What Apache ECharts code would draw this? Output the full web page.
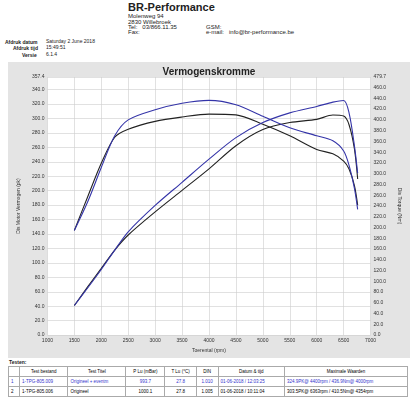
<!DOCTYPE html><html><head><meta charset="utf-8">
<script src="https://cdn.jsdelivr.net/npm/echarts@6/dist/echarts.min.js"></script>
<style>
body{margin:0;width:416px;height:401px;background:#fff;font-family:Arial,"Liberation Sans",sans-serif;position:relative;overflow:hidden}
.a{position:absolute;font-size:6px;color:#222;white-space:nowrap}
#c{position:absolute;left:8px;top:62px;width:402px;height:296px;background:#e4e4e4}
table{position:absolute;left:8px;top:366px;width:400px;border-collapse:collapse;font-size:4.5px}
td,th{border:1px solid #aaa;padding:1px 2px;font-weight:normal;height:7px}
.b td{color:#33c}
</style></head><body>
<div class="a" style="left:128px;top:1px;font-size:11px;font-weight:bold">BR-Performance</div>
<div class="a" style="left:128px;top:13px">Molenweg 94</div>
<div class="a" style="left:128px;top:19px">2830 Willebroek</div>
<div class="a" style="left:128px;top:24px">Tel: &nbsp; 03/866.11.35</div>
<div class="a" style="left:128px;top:29px">Fax:</div>
<div class="a" style="left:206px;top:24px">GSM:</div>
<div class="a" style="left:206px;top:29px">e-mail: &nbsp; info@br-performance.be</div>
<div class="a" style="left:5px;top:39px;font-size:5px;font-weight:bold">Afdruk datum</div>
<div class="a" style="left:46px;top:38px;font-size:5px">Saturday 2 June 2018</div>
<div class="a" style="left:13px;top:45px;font-size:5px;font-weight:bold">Afdruk tijd</div>
<div class="a" style="left:46px;top:44px;font-size:5px">15:49:51</div>
<div class="a" style="left:22px;top:52px;font-size:5px;font-weight:bold">Versie</div>
<div class="a" style="left:46px;top:51px;font-size:5px">6.1.4</div>
<div id="c"></div>
<div class="a" style="left:9px;top:359px;font-size:5px;font-weight:bold">Testen:</div>
<table>
<tr><th style="width:6px"></th><th>Test bestand</th><th>Test Titel</th><th>P Lu (mBar)</th><th>T Lu (°C)</th><th>DIN</th><th>Datum &amp; tijd</th><th>Maximale Waarden</th></tr>
<tr class="b"><td>1</td><td>1-TPG-805.009</td><td>Origineel + eventm</td><td style="text-align:center">993.7</td><td style="text-align:center">27.8</td><td style="text-align:center">1.010</td><td>01-06-2018 / 12:03:25</td><td>324.9PK@ 4400rpm / 436.9Nm@ 4000rpm</td></tr>
<tr><td>2</td><td>1-TPG-805.006</td><td>Origineel</td><td style="text-align:center">1000.1</td><td style="text-align:center">27.8</td><td style="text-align:center">1.005</td><td>01-06-2018 / 10:11:04</td><td>303.5PK@ 6363rpm / 410.5Nm@ 4354rpm</td></tr>
</table>
<script>
const rpm=[1500,1750,2000,2250,2500,3000,3500,4000,4500,5000,5500,6000,6300,6500,6600,6700,6760];
const pow1=[145,185,232,276,298,312,321,325,319,303,287,276,269,255,235,203,174];
const pow2=[145,192,238,274,285,296,302,306,305,292,276,257,251,241,230,207,180];
const tq1=[55,88,122,158,192,241,284,327,367,395,413,425,433,436,413,352,301];
const tq2=[55,90,124,158,186,229,269,309,352,382,395,401,409,407,391,346,290];
const pair=(a)=>rpm.map((r,i)=>[r,a[i]]);
const ax={fontSize:5,color:'#333'};
const ch=echarts.init(document.getElementById('c'));
ch.setOption({
 animation:false,
 title:{text:'Vermogenskromme',left:'center',top:0,textStyle:{fontSize:10,fontWeight:'bold',color:'#222'}},
 grid:{left:27,top:15,right:31,bottom:20,backgroundColor:'#fff',show:true,borderWidth:0},
 xAxis:{type:'value',min:1000,max:7000,interval:500,name:'Toerental (rpm)',nameLocation:'middle',nameGap:9,nameTextStyle:{fontSize:5,color:'#333'},
  axisLabel:Object.assign({margin:3,formatter:v=>String(v)},ax),axisLine:{show:false},axisTick:{show:false},splitLine:{lineStyle:{color:'#ccc',width:0.6}}},
 yAxis:[{type:'value',min:0,max:357.4,interval:20,name:'Dis Motor Vermogen (pk)',nameLocation:'middle',nameGap:18,nameTextStyle:{fontSize:5,color:'#333'},
  axisLabel:Object.assign({margin:3,showMaxLabel:true,formatter:v=>v.toFixed(1)},ax),axisLine:{show:false},axisTick:{show:false},splitLine:{lineStyle:{color:'#ccc',width:0.6}}},
  {type:'value',min:0,max:479.7,interval:20,name:'Dis Torque (Nm)',nameLocation:'middle',nameGap:20,nameRotate:-90,nameTextStyle:{fontSize:5,color:'#333'},
  axisLabel:Object.assign({margin:3,showMaxLabel:true,formatter:v=>v.toFixed(1)},ax),axisLine:{show:false},axisTick:{show:false},splitLine:{show:false}}],
 series:[
  {type:'line',data:pair(pow2),yAxisIndex:0,smooth:0.3,symbol:'none',lineStyle:{color:'#222',width:1.1}},
  {type:'line',data:pair(tq2),yAxisIndex:1,smooth:0.3,symbol:'none',lineStyle:{color:'#222',width:1.1}},
  {type:'line',data:pair(pow1),yAxisIndex:0,smooth:0.3,symbol:'none',lineStyle:{color:'#3434a8',width:1.1}},
  {type:'line',data:pair(tq1),yAxisIndex:1,smooth:0.3,symbol:'none',lineStyle:{color:'#3434a8',width:1.1}}
 ]});
</script></body></html>
